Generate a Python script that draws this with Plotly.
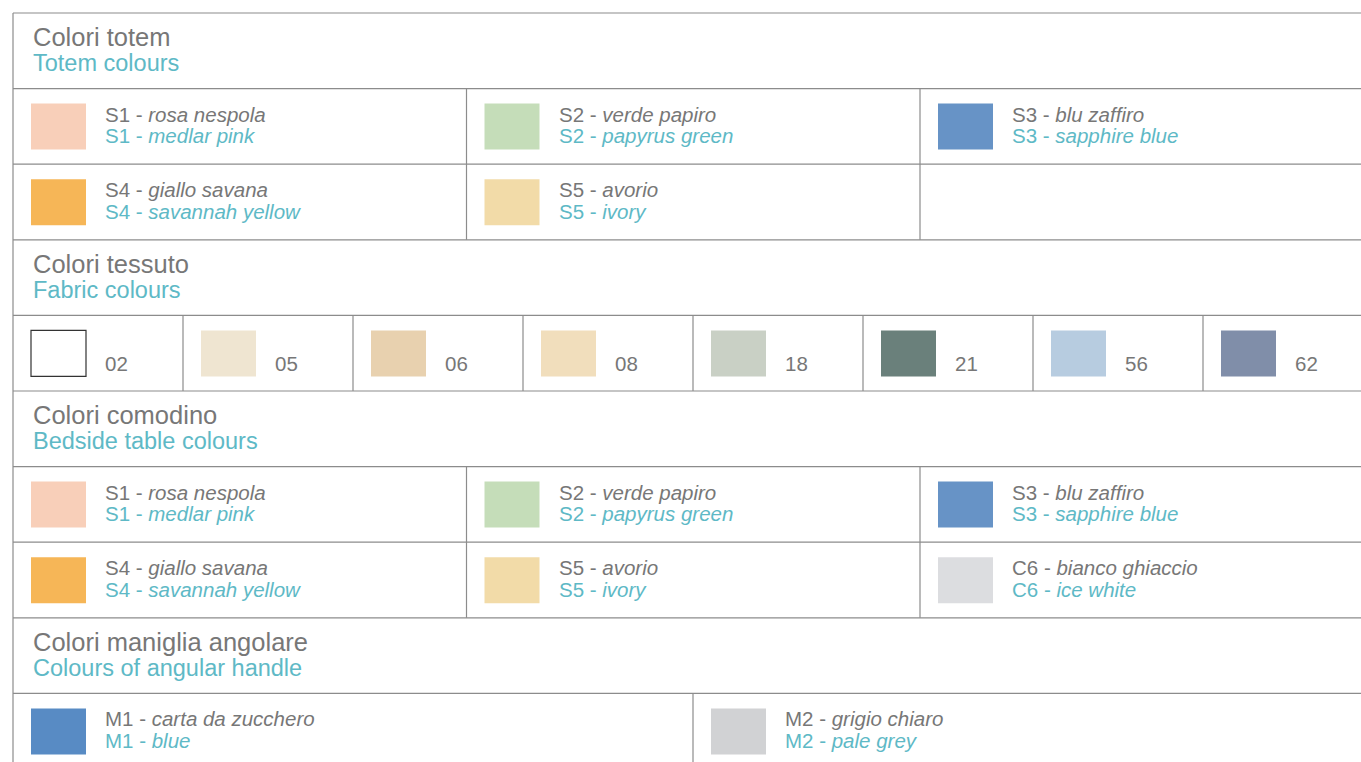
import plotly.graph_objects as go

# ---------------- data ----------------
section_titles_it = ["Colori totem", "Colori tessuto", "Colori comodino", "Colori maniglia angolare"]
section_titles_en = ["Totem colours", "Fabric colours", "Bedside table colours", "Colours of angular handle"]

totem_codes = ["S1", "S2", "S3", "S4", "S5"]
totem_it = ["rosa nespola", "verde papiro", "blu zaffiro", "giallo savana", "avorio"]
totem_en = ["medlar pink", "papyrus green", "sapphire blue", "savannah yellow", "ivory"]
totem_colors = ["#F8CFB9", "#C5DDB9", "#6793C6", "#F6B657", "#F2DBA8"]

fabric_codes = ["02", "05", "06", "08", "18", "21", "56", "62"]
fabric_colors = ["#FFFFFF", "#EFE5D1", "#E8D1AF", "#F1DEBC", "#C9D0C5", "#6A807B", "#B7CCE0", "#808EA9"]

comodino_codes = ["S1", "S2", "S3", "S4", "S5", "C6"]
comodino_it = ["rosa nespola", "verde papiro", "blu zaffiro", "giallo savana", "avorio", "bianco ghiaccio"]
comodino_en = ["medlar pink", "papyrus green", "sapphire blue", "savannah yellow", "ivory", "ice white"]
comodino_colors = ["#F8CFB9", "#C5DDB9", "#6793C6", "#F6B657", "#F2DBA8", "#DCDDE0"]

handle_codes = ["M1", "M2"]
handle_it = ["carta da zucchero", "grigio chiaro"]
handle_en = ["blue", "pale grey"]
handle_colors = ["#588BC4", "#D1D2D4"]

# ---------------- layout geometry ----------------
W, H = 1361, 762
X0, Y0 = 13, 13
ROW_H = 75.6
XR = W + 20
GRAY = "#777777"
TEAL = "#5EB9C6"
LINE = "#8c8c8c"
FONT = "Liberation Sans"

shapes = []
annotations = []


def hline(y):
    shapes.append(dict(type="line", x0=X0, x1=XR, y0=y, y1=y, line=dict(color=LINE, width=1.2)))


def vline(x, ya, yb):
    shapes.append(dict(type="line", x0=x, x1=x, y0=ya, y1=yb, line=dict(color=LINE, width=1.2)))


def header(row, idx):
    top = Y0 + row * ROW_H
    annotations.append(dict(x=X0 + 18, y=top + 23.8, text=section_titles_it[idx], xanchor="left", yanchor="middle",
                            showarrow=False, font=dict(family=FONT, size=25.5, color=GRAY)))
    annotations.append(dict(x=X0 + 18, y=top + 50, text=section_titles_en[idx], xanchor="left", yanchor="middle",
                            showarrow=False, font=dict(family=FONT, size=23.5, color=TEAL)))


def item(x_left, top, code, it, en, color):
    shapes.append(dict(type="rect", x0=x_left + 18, x1=x_left + 73, y0=top + 15, y1=top + 61,
                       fillcolor=color, line=dict(width=0)))
    annotations.append(dict(x=x_left + 90, y=top + 25.5, text=f"{code} - <i>{it}</i>", xanchor="left",
                            yanchor="middle", showarrow=False, font=dict(family=FONT, size=20.5, color=GRAY)))
    annotations.append(dict(x=x_left + 90, y=top + 47, text=f"{code} - <i>{en}</i>", xanchor="left",
                            yanchor="middle", showarrow=False, font=dict(family=FONT, size=20.5, color=TEAL)))


# outer frame
vline(X0, Y0, H + 20)
for r in range(10):
    hline(Y0 + r * ROW_H)

col3 = 453.5

# --- totem section (rows 0,1,2)
header(0, 0)
for i, (c, a, b, col) in enumerate(zip(totem_codes, totem_it, totem_en, totem_colors)):
    r, k = divmod(i, 3)
    item(X0 + k * col3, Y0 + (1 + r) * ROW_H, c, a, b, col)
for k in (1, 2):
    vline(X0 + k * col3, Y0 + ROW_H, Y0 + 3 * ROW_H)

# --- fabric section (rows 3,4)
header(3, 1)
fab_w = 170
ftop = Y0 + 4 * ROW_H
for i, (c, col) in enumerate(zip(fabric_codes, fabric_colors)):
    xl = X0 + i * fab_w
    border = dict(color="#333333", width=1.2) if col.upper() == "#FFFFFF" else dict(width=0)
    shapes.append(dict(type="rect", x0=xl + 18, x1=xl + 73, y0=ftop + 15, y1=ftop + 61,
                       fillcolor=col, line=border))
    annotations.append(dict(x=xl + 90, y=ftop + 48.5, text=c, xanchor="left", yanchor="middle", showarrow=False,
                            font=dict(family=FONT, size=20.5, color=GRAY)))
    if i > 0:
        vline(xl, ftop, ftop + ROW_H)

# --- bedside section (rows 5,6,7)
header(5, 2)
for i, (c, a, b, col) in enumerate(zip(comodino_codes, comodino_it, comodino_en, comodino_colors)):
    r, k = divmod(i, 3)
    item(X0 + k * col3, Y0 + (6 + r) * ROW_H, c, a, b, col)
for k in (1, 2):
    vline(X0 + k * col3, Y0 + 6 * ROW_H, Y0 + 8 * ROW_H)

# --- handle section (rows 8,9)
header(8, 3)
col2 = 680
for i, (c, a, b, col) in enumerate(zip(handle_codes, handle_it, handle_en, handle_colors)):
    item(X0 + i * col2, Y0 + 9 * ROW_H, c, a, b, col)
vline(X0 + col2, Y0 + 9 * ROW_H, H + 20)

fig = go.Figure()
fig.add_trace(go.Scatter(x=[0, W], y=[0, H], mode="markers", marker=dict(opacity=0),
                         hoverinfo="skip", showlegend=False))
fig.update_layout(
    width=W, height=H,
    margin=dict(l=0, r=0, t=0, b=0),
    paper_bgcolor="white", plot_bgcolor="white",
    xaxis=dict(range=[0, W], visible=False, fixedrange=True),
    yaxis=dict(range=[H, 0], visible=False, fixedrange=True),
    shapes=shapes, annotations=annotations, showlegend=False,
)
fig.write_html("out.html",
               config={"displayModeBar": False},
               post_script="document.body.style.margin='0';document.body.style.overflow='hidden';")
